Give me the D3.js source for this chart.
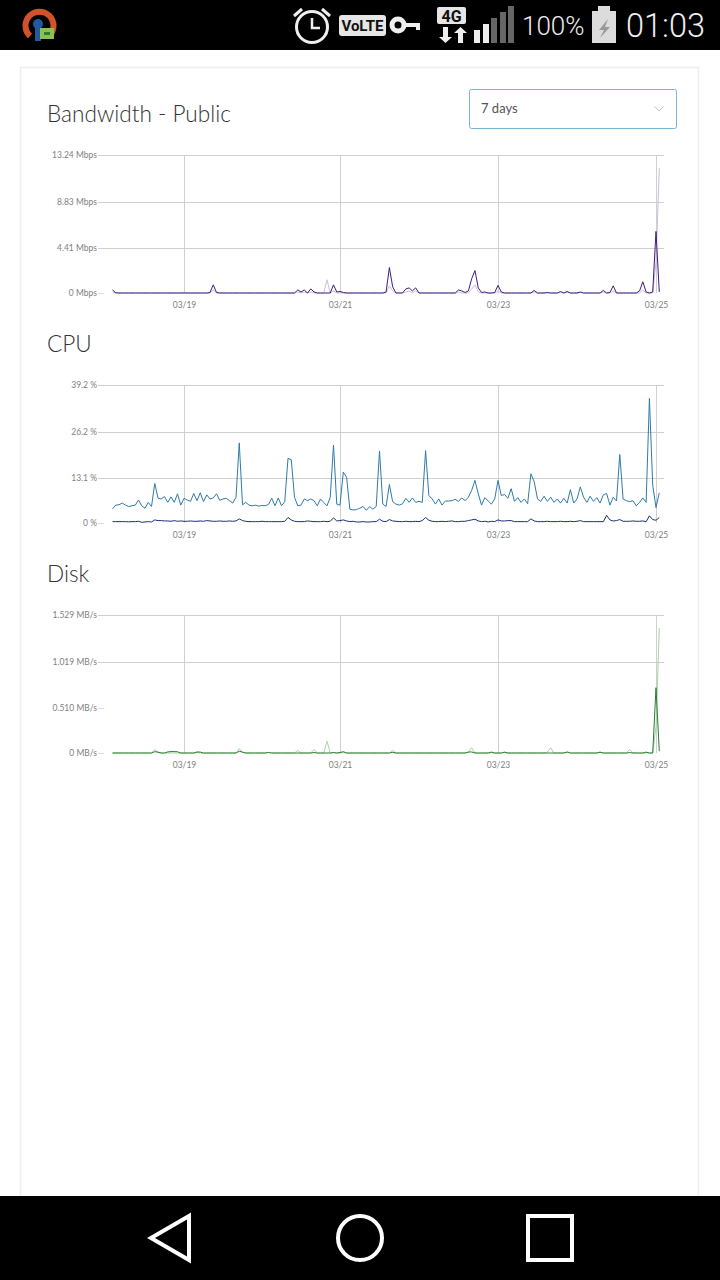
<html lang="en">
  <head>
    <meta charset="utf-8">
    <script src="https://d3js.org/d3.v7.js"></script>
    <style>
      html, body { margin: 0; background: #fff; }
      svg { display: block; }
      text { font-family: Lato, "Open Sans", sans-serif; }
    </style>
  </head>
  <body>
    <svg id="page" width="720" height="1280"></svg>
    <script>
      // hourly samples, first one is 03/18 02:00
      var startTime = "03/18 02:00";
      var dayLabels = ["03/19", "03/21", "03/23", "03/25"];

      var bandwidthTicks = [0, 4.41, 8.83, 13.24];
      var bandwidthTickLabels = ["0 Mbps", "4.41 Mbps", "8.83 Mbps", "13.24 Mbps"];
      var bandwidthOut = [
        .3,.02,0,0,0,0,0,0,0,0,
        0,0,0,0,0,0,0,0,0,0,
        0,0,0,0,0,0,0,0,0,0,
        .05,.8,.05,0,0,0,0,0,0,0,
        0,0,0,0,0,0,0,0,0,0,
        0,0,0,0,0,0,0,.3,.1,.3,
        0,.4,.1,0,0,0,0,0,.8,.1,
        .15,.05,0,0,0,0,0,0,0,0,
        0,0,0,0,.1,2.5,.6,0,0,0,
        .4,.5,.2,.5,0,0,0,0,0,0,
        0,0,0,0,0,0,.3,.2,.05,.2,
        1.4,2.2,.5,.05,.1,0,0,.05,.75,.1,
        0,0,0,0,0,0,0,0,0,.25,
        0,0,0,.05,0,0,0,.15,0,.15,
        0,0,0,.1,0,0,0,0,0,0,
        .25,0,.05,.7,0,0,0,0,0,0,
        0,.2,1.1,.1,0,.1,6,.1
      ];
      var bandwidthIn = [
        .1,0,0,0,0,0,0,0,0,0,
        0,0,0,0,0,0,0,0,0,0,
        0,0,.05,0,0,0,0,0,0,0,
        0,.3,0,0,0,0,0,0,0,0,
        0,0,0,0,0,0,0,0,0,0,
        0,0,0,0,0,0,0,.1,0,.1,
        0,.1,0,0,0,0,1.3,0,.2,0,
        0,0,0,0,0,0,0,0,0,0,
        0,0,0,0,0,.7,.2,0,0,0,
        .1,.2,0,.2,0,0,0,0,0,0,
        0,0,0,0,0,0,.1,0,0,0,
        .4,.8,.1,0,0,0,0,0,.2,0,
        0,0,0,0,0,0,0,0,0,.1,
        0,0,0,0,0,0,0,.05,0,.05,
        0,0,0,.05,0,0,0,0,0,0,
        .1,0,0,.2,0,0,0,0,0,0,
        0,0,.3,0,0,0,3,12
      ];

      var cpuTicks = [0, 13.1, 26.2, 39.2];
      var cpuTickLabels = ["0 %", "13.1 %", "26.2 %", "39.2 %"];
      var cpuUser = [
        4.1,5.2,5.3,5.8,5.2,4.8,5.0,5.2,6.7,5.0,
        4.3,6.0,4.8,11.5,7.2,7.0,7.7,6.0,7.6,6.0,
        8.5,5.2,7.2,6.7,6.3,8.6,6.5,8.8,6.2,8.2,
        7.0,7.3,8.5,6.6,7.0,7.2,6.5,5.8,7.5,23.1,
        5.3,6.0,5.2,5.0,5.2,4.9,5.1,5.0,5.4,7.2,
        5.0,7.3,5.0,6.2,18.7,18.3,7.5,5.0,5.2,7.0,
        6.5,7.0,6.5,5.0,7.0,6.0,5.0,7.5,22.5,5.5,
        5.2,14.8,13.3,4.0,3.8,3.9,4.3,4.8,3.7,4.8,
        4.0,4.8,20.8,5.5,4.8,11.2,6.2,5.5,5.2,5.6,
        7.2,6.0,7.3,6.0,6.3,6.0,20.9,8.0,7.0,5.5,
        7.0,5.2,6.4,6.4,6.5,6.9,6.3,7.3,6.5,7.5,
        9.5,12.4,8.5,5.2,7.4,6.4,5.5,7.0,12.4,8.0,
        8.3,7.2,10.0,6.3,7.4,6.0,7.0,5.6,14.3,12.0,
        7.0,6.3,7.8,6.3,7.5,6.0,7.0,5.8,7.2,5.8,
        9.7,5.8,7.0,10.5,7.5,6.0,7.8,6.3,7.4,5.8,
        8.2,8.6,5.2,7.5,6.4,19.8,7.0,6.5,6.2,6.5,
        5.0,6.0,7.3,6.0,35.5,11.0,4.5,8.8
      ];
      var cpuSystem = [
        .4,.4,.4,.4,.4,.35,.4,.4,.5,.2,
        .3,.4,.3,.9,.7,.7,.6,.6,.5,.7,
        .5,.6,.5,.5,.6,.5,.5,.6,.5,.7,
        .6,.5,.5,.6,.5,.5,.6,.5,.6,1.2,
        .7,.5,.4,.4,.4,.4,.5,.4,.4,.4,
        .4,.4,.4,.5,1.6,.9,.5,.4,.4,.4,
        .6,.5,.4,.4,.4,.5,.4,.5,1.5,.6,
        .7,.9,.6,.4,.5,.3,.3,.4,.3,.3,
        .4,.4,1.1,.5,.4,1.0,.6,.5,.4,.4,
        .5,.4,.4,.5,.4,.7,1.6,.8,.5,.4,
        .4,.5,.4,.5,.6,.4,.4,.5,.5,.7,
        .9,1.1,.6,.4,.5,.3,.5,.4,.9,.6,
        .6,.7,.7,.4,.4,.4,.4,.4,1.2,.6,
        .4,.4,.4,.5,.4,.4,.4,.5,.4,.4,
        .5,.4,.5,.7,.4,.4,.4,.4,.4,.4,
        .4,2.2,.9,.6,.7,1.0,.5,.5,.5,.6,
        .5,.5,.6,.4,2.1,1.0,.8,1.6
      ];

      var diskTicks = [0, .51, 1.019, 1.529];
      var diskTickLabels = ["0 MB/s", "0.510 MB/s", "1.019 MB/s", "1.529 MB/s"];
      var diskRead = [
        0,0,0,0,0,0,0,0,0,0,
        0,0,0,.015,.01,0,0,.012,.016,.016,
        .014,0,0,0,0,0,.012,.01,0,0,
        0,0,0,0,0,0,0,0,0,.02,
        .01,0,0,0,0,0,0,0,.005,0,
        0,0,0,0,0,0,0,0,0,0,
        0,0,.005,0,0,0,0,0,.005,0,
        .005,.015,0,0,0,0,0,0,0,0,
        0,0,0,0,0,0,.008,0,0,0,
        0,0,0,0,0,0,0,0,0,0,
        0,0,0,0,0,0,0,0,0,.01,
        .012,0,0,0,0,0,.01,0,0,0,
        .01,0,0,0,0,0,0,0,0,0,
        0,0,0,0,0,0,0,0,0,.012,
        0,0,0,0,0,0,0,0,0,.01,
        0,0,0,0,0,0,0,0,.005,0,
        0,0,0,.01,0,0,.735,.02
      ];
      var diskWrite = [
        0,0,0,0,0,0,0,0,0,0,
        0,0,0,.04,.005,0,0,0,0,0,
        0,0,0,0,0,0,.005,0,0,0,
        0,0,0,0,0,0,0,0,0,.05,
        .005,0,0,0,0,0,0,0,.008,0,
        0,0,0,0,0,0,0,.03,0,0,
        0,0,.04,0,0,0,.134,0,.005,0,
        0,.005,0,0,0,0,0,0,0,0,
        0,0,0,0,0,0,.03,0,0,0,
        0,0,0,0,0,0,0,0,0,0,
        0,0,0,0,0,0,0,0,0,.01,
        .06,0,0,0,0,0,.005,0,0,0,
        .005,0,0,0,0,0,0,0,0,0,
        0,0,0,.01,.06,0,0,0,0,.005,
        0,0,0,0,0,0,0,0,0,.005,
        0,0,0,0,0,0,0,0,.04,0,
        0,0,0,0,0,0,.3,1.387
      ];

      var svg = d3.select("svg#page");
      var parseDay = d3.utcParse("%m/%d");
      var start = d3.utcParse("%m/%d %H:%M")(startTime);
      var dayTicks = dayLabels.map(parseDay);

      // both gridlines and lines share one time scale
      var xScale = d3.scaleUtc()
        .domain(dayTicks)
        .range([184, 340, 498, 656]);

      var time = i => d3.utcHour.offset(start, i);

      function drawChart(opts) {
        var chartTop = opts.top, bottom = chartTop + 138;
        var g = svg.append("g");

        // the gridlines sit 45, 46 and 47 px apart in the picture
        var yScale = d3.scaleLinear()
          .domain(opts.ticks)
          .range([bottom, bottom - 45, bottom - 91, chartTop]);

        g.append("text")
          .attr("x", 47).attr("y", opts.titleY)
          .attr("font-size", 22.6).attr("font-weight", 300).attr("fill", "#333")
          .text(opts.title);

        // vertical gridlines and date labels
        var xAxis = g.append("g")
          .attr("transform", `translate(0, ${bottom})`)
          .call(d3.axisBottom(xScale)
            .tickValues(dayTicks)
            .tickSize(-138)
            .tickPadding(9)
            .tickFormat((d, i) => dayLabels[i]));
        xAxis.select(".domain").remove();
        xAxis.selectAll("line").attr("stroke", "#d0d0d0");
        xAxis.selectAll("text")
          .attr("font-size", 8.5).attr("fill", "#808080").attr("font-family", "Lato");

        var yAxis = g.append("g")
          .attr("transform", "translate(664, 0)")
          .call(d3.axisLeft(yScale)
            .tickValues(opts.ticks)
            .tickSize(566)
            .tickPadding(1)
            .tickFormat((d, i) => opts.labels[i]));
        yAxis.select(".domain").remove();
        yAxis.selectAll("line").attr("stroke", "#cfcfcf");
        yAxis.selectAll("text")
          .attr("font-size", 8.5).attr("fill", "#808080").attr("font-family", "Lato");

        // lines that have no full gridline keep only a short tick
        yAxis.selectAll(".tick").filter(d => opts.shortTicks.includes(d)).select("line")
          .attr("x1", -560).attr("x2", -566).attr("stroke", "#ddd");

        var line = d3.line()
          .x((d, i) => xScale(time(i)))
          .y(d => yScale(d));

        opts.series.forEach(s => {
          g.append("path")
            .datum(s.values)
            .attr("d", line)
            .attr("fill", "none")
            .attr("stroke", s.color)
            .attr("stroke-width", s.width);
        });
      }

      // page frame
      svg.append("rect").attr("x", 20.5).attr("y", 67.5).attr("width", 678).attr("height", 1140)
        .attr("fill", "#fff").attr("stroke", "#eeeeee").attr("stroke-width", 1.5);

      drawChart({
        title: "Bandwidth - Public", titleY: 122, top: 155,
        ticks: bandwidthTicks, labels: bandwidthTickLabels, shortTicks: [0],
        series: [
          {values: bandwidthIn, color: "#c8bedb", width: 1},
          {values: bandwidthOut, color: "#3f1d7c", width: 1}
        ]
      });
      drawChart({
        title: "CPU", titleY: 352, top: 385,
        ticks: cpuTicks, labels: cpuTickLabels, shortTicks: [0],
        series: [
          {values: cpuUser, color: "#2f7ba8", width: 1},
          {values: cpuSystem, color: "#1f2f78", width: 1}
        ]
      });
      drawChart({
        title: "Disk", titleY: 582, top: 615,
        ticks: diskTicks, labels: diskTickLabels, shortTicks: [0, .51],
        series: [
          {values: diskWrite, color: "#a5d6a0", width: 1},
          {values: diskRead, color: "#2c7a34", width: 1}
        ]
      });

      // range dropdown
      var dropdown = svg.append("g");
      dropdown.append("rect").attr("x", 469.5).attr("y", 89.5).attr("width", 207).attr("height", 39).attr("rx", 2)
        .attr("fill", "#fff").attr("stroke", "#79b4d2").attr("stroke-width", 1);
      dropdown.append("text").attr("x", 481).attr("y", 113).attr("font-size", 13).attr("fill", "#555").text("7 days");
      dropdown.append("path").attr("d", "M654.5 106.5 L659 111 L663.5 106.5").attr("fill", "none").attr("stroke", "#c4c4c4");

      // status bar
      var statusBar = svg.append("g");
      statusBar.append("rect").attr("width", 720).attr("height", 50).attr("fill", "#000");

      statusBar.append("path").attr("d", "M30 36 A14 14 0 1 1 49 36").attr("fill", "none")
        .attr("stroke", "#d2532a").attr("stroke-width", 6);
      statusBar.append("circle").attr("cx", 38).attr("cy", 24).attr("r", 5).attr("fill", "#1f5aa0");
      statusBar.append("rect").attr("x", 35).attr("y", 26).attr("width", 6).attr("height", 15).attr("fill", "#1f5aa0");
      statusBar.append("rect").attr("x", 40).attr("y", 28).attr("width", 14).attr("height", 11).attr("fill", "#8cc152");
      statusBar.append("rect").attr("x", 44).attr("y", 32).attr("width", 6).attr("height", 3).attr("fill", "#2e7d32");

      statusBar.append("circle").attr("cx", 312).attr("cy", 27).attr("r", 15.5).attr("fill", "none")
        .attr("stroke", "#eee").attr("stroke-width", 3);
      statusBar.append("path").attr("d", "M312 18 V28 H320").attr("fill", "none").attr("stroke", "#eee").attr("stroke-width", 2.5);
      statusBar.append("path").attr("d", "M294 16 L302 9 M322 9 L330 16").attr("stroke", "#eee").attr("stroke-width", 3);

      statusBar.append("rect").attr("x", 339).attr("y", 15).attr("width", 47).attr("height", 21).attr("rx", 3).attr("fill", "#e6e6e6");
      statusBar.append("text").attr("x", 362.5).attr("y", 31).attr("text-anchor", "middle")
        .attr("font-size", 15).attr("font-weight", 700).attr("fill", "#111").style("font-family", "Roboto").text("VoLTE");

      statusBar.append("circle").attr("cx", 398).attr("cy", 25).attr("r", 6).attr("fill", "none").attr("stroke", "#eee").attr("stroke-width", 5);
      statusBar.append("path").attr("d", "M405 23 H420 V30 H416 V27 H405 Z").attr("fill", "#eee");

      statusBar.append("rect").attr("x", 437).attr("y", 7).attr("width", 29).attr("height", 17).attr("rx", 2).attr("fill", "#e6e6e6");
      statusBar.append("text").attr("x", 451.5).attr("y", 22).attr("text-anchor", "middle")
        .attr("font-size", 16).attr("font-weight", 700).attr("fill", "#111").style("font-family", "Roboto").text("4G");
      statusBar.append("path").attr("d", "M448 27 V37 H452 L445.5 43 L439 37 H443 V27 Z M458 43 V33 H454 L460.5 27 L467 33 H463 V43 Z").attr("fill", "#eee");

      statusBar.selectAll(".bar")
        .data([[474, 30, "#eee"], [483, 24, "#eee"], [491, 18, "#666"], [500, 12, "#666"], [508, 6, "#666"]])
        .enter().append("rect")
        .attr("x", d => d[0]).attr("y", d => d[1]).attr("width", 6).attr("height", d => 43 - d[1]).attr("fill", d => d[2]);

      statusBar.append("text").attr("x", 522).attr("y", 35).attr("font-size", 26).attr("fill", "#eeeeee")
        .style("font-family", "Roboto").attr("font-weight", 300).text("100%");

      statusBar.append("path").attr("d", "M598 6 H610 V11 H616 V43 H592 V11 H598 Z").attr("fill", "#dcdcdc");
      statusBar.append("path").attr("d", "M608 19 L599 30 H604 L600 38 L610 27 H605 Z").attr("fill", "#999");

      statusBar.append("text").attr("x", 626).attr("y", 37).attr("font-size", 32.5).attr("fill", "#eeeeee")
        .style("font-family", "Roboto").attr("font-weight", 300).text("01:03");

      // nav bar
      var nav = svg.append("g");
      nav.append("rect").attr("y", 1196).attr("width", 720).attr("height", 84).attr("fill", "#000");
      nav.append("path").attr("d", "M189 1216 V1260 L151 1238 Z").attr("fill", "none").attr("stroke", "#fff").attr("stroke-width", 4);
      nav.append("circle").attr("cx", 360).attr("cy", 1238).attr("r", 22).attr("fill", "none").attr("stroke", "#fff").attr("stroke-width", 4);
      nav.append("rect").attr("x", 528).attr("y", 1216).attr("width", 44).attr("height", 44).attr("fill", "none").attr("stroke", "#fff").attr("stroke-width", 4);
    </script>
  </body>
</html>
